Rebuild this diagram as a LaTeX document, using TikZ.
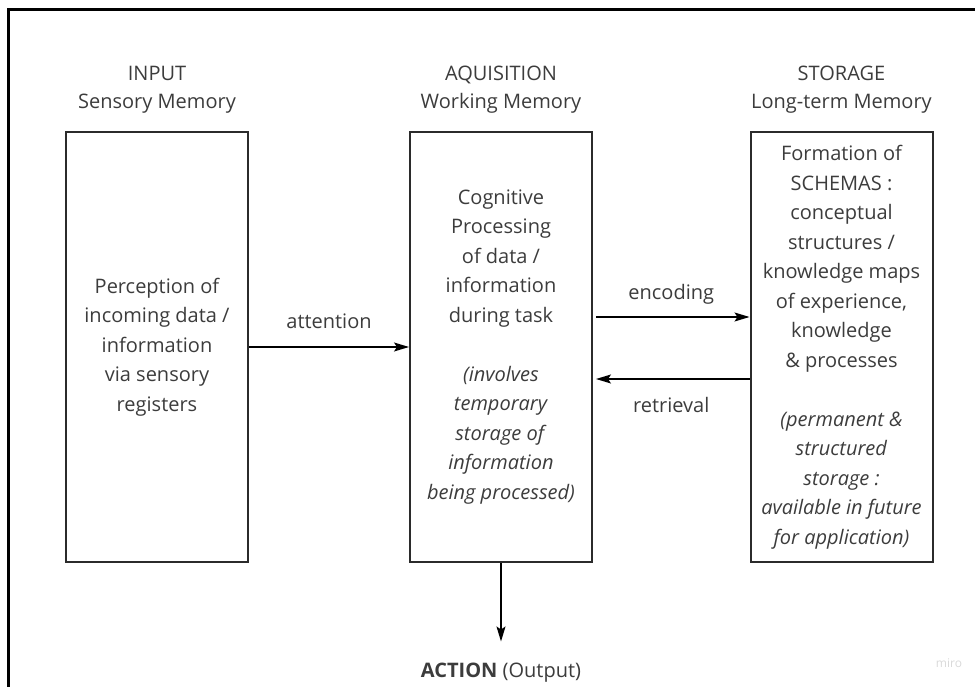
\documentclass[tikz,border=0pt]{standalone}
\usepackage{fontspec}
\setmainfont{Open Sans}
\usetikzlibrary{positioning}
\usetikzlibrary{arrows.meta}
\definecolor{boxgray}{HTML}{2B2B2B}
\definecolor{inkgray}{HTML}{3C3C3C}
\tikzset{
    stage/.style = {rectangle, draw=boxgray, line width=2pt, minimum width=182pt, minimum height=430pt, align=center, text=inkgray, font=\fontsize{20}{29.5}\selectfont},
    heading/.style = {align=center, text=inkgray, font=\fontsize{20}{28}\selectfont},
    flow/.style = {-{Stealth[length=15pt,width=9pt,inset=3pt]}, line width=1.3pt, black},
    flowlabel/.style = {text=inkgray, text height=15pt, text depth=5pt, font=\fontsize{20}{24}\selectfont},
    frame/.style = {line width=2.5pt, black}
}
\newcommand{\I}[1]{\textit{#1}}

\begin{document}
\begin{tikzpicture}[x=1pt,y=-1pt]
\useasboundingbox (0,0) rectangle (975,687);
\draw[frame] (8.5,687) |- (975,9.7);
%
\node[heading] at (157,90) (tinp) {INPUT\\Sensory Memory};
\node[heading] at (501,90) (tacq) {AQUISITION\\Working Memory};
\node[heading] at (841.5,90) (tsto) {STORAGE\\Long-term Memory};
%
\node[stage] at (157,347) (inp) {Perception of\\incoming data /\\information\\via sensory\\registers};
\node[stage] at (501,347) (acq) {Cognitive\\Processing\\of data /\\information\\during task\\[29.5pt]
  \I{(involves}\\\I{temporary}\\\I{storage of}\\\I{information}\\\I{being processed)}};
\node[stage] at (841.5,347) (sto) {Formation of\\SCHEMAS :\\conceptual\\structures /\\knowledge maps\\of experience,\\knowledge\\\& processes\\[29.5pt]
  \I{(permanent \&}\\\I{structured}\\\I{storage :}\\\I{available in future}\\\I{for application)}};
%
\node[flowlabel] at (501,672) (act) {\textbf{ACTION} (Output)};
\node[text=gray!30, font=\fontsize{12}{14}\selectfont] at (949,663) (miro) {miro};
%
\draw[flow] (inp) -- node[flowlabel, above=10pt] {attention} (acq);
\draw[flow, shorten <=3pt] ([yshift=30pt]acq.east) -- node[flowlabel, above=9pt] {encoding} ([yshift=30pt]sto.west);
\draw[flow, shorten >=3pt] ([yshift=-32pt]sto.west) -- node[flowlabel, below=15pt] {retrieval} ([yshift=-32pt]acq.east);
\draw[flow, shorten >=17pt] (acq) -- (act);
\end{tikzpicture}
\end{document}
